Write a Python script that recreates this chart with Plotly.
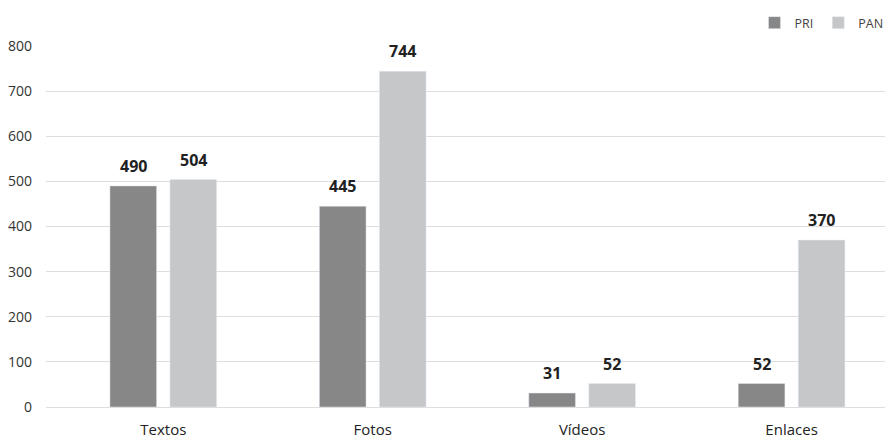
import plotly.graph_objects as go

categories = ["Textos", "Fotos", "Vídeos", "Enlaces"]
pri_values = [490, 445, 31, 52]
pan_values = [504, 744, 52, 370]
y_tick_values = [0, 100, 200, 300, 400, 500, 600, 700, 800]

PRI_COLOR = "#878787"
PAN_COLOR = "#c6c7c8"
BAR_W = 0.223
HALF = 0.1433
FONT = "Open Sans"

fig = go.Figure()
fig.add_trace(go.Bar(name="PRI", x=categories, y=pri_values, marker_color=PRI_COLOR,
                     width=BAR_W, offset=-HALF - BAR_W / 2, hoverinfo="skip"))
fig.add_trace(go.Bar(name="PAN", x=categories, y=pan_values, marker_color=PAN_COLOR,
                     width=BAR_W, offset=HALF - BAR_W / 2, hoverinfo="skip"))

px_per_unit = 209.4
for vals, sign in ((pri_values, -1), (pan_values, 1)):
    for c, v in zip(categories, vals):
        fig.add_annotation(x=c, y=v, text=f"<b>{v}</b>", showarrow=False,
                           xshift=sign * HALF * px_per_unit, yshift=7, yanchor="bottom",
                           font=dict(family=FONT, size=16, color="#222222"))

fig.update_layout(
    width=893, height=439,
    margin=dict(l=38, r=11, t=38, b=40, autoexpand=False),
    paper_bgcolor="white", plot_bgcolor="white",
    barmode="overlay",
    showlegend=True,
    legend=dict(orientation="h", xref="container", x=0.986, xanchor="right",
                yref="container", y=1.0, yanchor="top",
                font=dict(family=FONT, size=12.5, color="#444444"),
                itemwidth=30, traceorder="normal"),
    font=dict(family=FONT),
)
fig.update_xaxes(range=[-0.560, 3.470], showgrid=False, showline=False, ticks="",
                 tickfont=dict(family=FONT, size=15, color="#222222"), ticklabelstandoff=12)
fig.update_yaxes(range=[0, 800], tickvals=y_tick_values, showgrid=True, gridcolor="#dedede",
                 gridwidth=1, zeroline=True, zerolinecolor="#dedede", zerolinewidth=1,
                 showline=False, ticks="",
                 tickfont=dict(family=FONT, size=14, color="#333333"), ticklabelstandoff=13)

fig.write_html("out.html")
